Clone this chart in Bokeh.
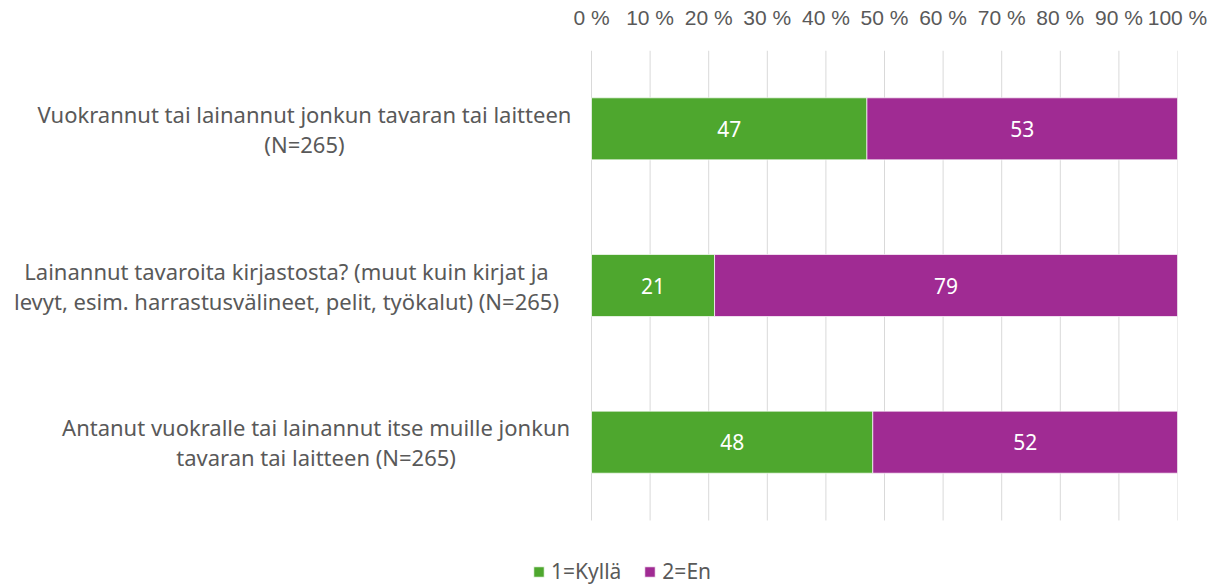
from bokeh.plotting import figure
from bokeh.models import Range1d, FixedTicker, Legend, LegendItem, ColumnDataSource
from bokeh.core.properties import value
from bokeh.embed import file_html
from bokeh.resources import INLINE

# ---- data ----
categories = [
    "Vuokrannut tai lainannut jonkun tavaran tai laitteen\n(N=265)",
    "Lainannut tavaroita kirjastosta? (muut kuin kirjat ja\nlevyt, esim. harrastusvälineet, pelit, työkalut) (N=265)",
    "Antanut vuokralle tai lainannut itse muille jonkun\ntavaran tai laitteen (N=265)",
]
series_names = ["1=Kyllä", "2=En"]
kylla = [47, 21, 48]
en = [53, 79, 52]
tick_values = [0, 10, 20, 30, 40, 50, 60, 70, 80, 90, 100]
tick_labels = [f"{t} %" for t in tick_values]

# ---- layout / style ----
label_x = [-48.98, -52.05, -47.0]  # horizontal centres of category label blocks (data units)
GREEN = "#4EA72E"
PURPLE = "#A02B93"
TEXT = "#595959"
FONT = "Noto Sans"

ypos = [2.5, 1.5, 0.5]

p = figure(width=1231, height=584, output_backend="svg", toolbar_location=None,
           x_range=Range1d(-100.853, 100), y_range=Range1d(-0.4085, 3),
           x_axis_location="above", y_axis_location=None,
           min_border_left=0, min_border_right=54, min_border_top=50, min_border_bottom=0)
p.outline_line_color = None
p.grid.visible = False
p.background_fill_color = "white"
p.border_fill_color = "white"

ticker = FixedTicker(ticks=tick_values)
ax = p.xaxis[0]
ax.ticker = ticker
ax.axis_line_color = None
ax.major_tick_line_color = None
ax.minor_tick_line_color = None
ax.major_tick_out = 0
ax.major_tick_in = 0
ax.major_label_standoff = 22
ax.major_label_overrides = {t: l for t, l in zip(tick_values, tick_labels)}
ax.major_label_text_font = "Liberation Sans"
ax.major_label_text_font_size = "21px"
ax.major_label_text_color = TEXT

# vertical gridlines at the tick positions, spanning the category band
p.segment(x0=tick_values, y0=[0] * len(tick_values), x1=tick_values, y1=[3] * len(tick_values),
          line_color="#D9D9D9", line_width=1)

src = ColumnDataSource(dict(y=ypos,
                            kend=kylla, eend=[a + b for a, b in zip(kylla, en)],
                            kmid=[a / 2 for a in kylla],
                            emid=[a + b / 2 for a, b in zip(kylla, en)],
                            klab=[str(v) for v in kylla], elab=[str(v) for v in en],
                            cat=categories, lx=label_x))

r1 = p.hbar(y="y", left=0, right="kend", height=0.396, source=src,
            fill_color=GREEN, line_color="white", line_width=0.7)
r2 = p.hbar(y="y", left="kend", right="eend", height=0.396, source=src,
            fill_color=PURPLE, line_color="white", line_width=0.7)

p.text(x="kmid", y="y", text="klab", source=src, text_color="white",
       text_font=value(FONT), text_font_size="21px", text_align="center", text_baseline="middle")
p.text(x="emid", y="y", text="elab", source=src, text_color="white",
       text_font=value(FONT), text_font_size="21px", text_align="center", text_baseline="middle")

p.text(x="lx", y="y", text="cat", source=src, text_color=TEXT,
       text_font=value(FONT), text_font_size="22px", text_align="center", text_baseline="middle",
       text_line_height=1.0)

legend = Legend(items=[LegendItem(label=series_names[0], renderers=[r1]),
                       LegendItem(label=series_names[1], renderers=[r2])],
                orientation="horizontal", location=(532, -1))
legend.border_line_color = None
legend.background_fill_alpha = 0
legend.margin = 0
legend.padding = 0
legend.glyph_width = 13
legend.glyph_height = 13
legend.label_standoff = 6
legend.spacing = 22
legend.label_text_font = FONT
legend.label_text_font_size = "21px"
legend.label_text_color = TEXT
legend.label_height = 13
p.add_layout(legend, "center")

open("out.html", "w").write(file_html(p, INLINE))
